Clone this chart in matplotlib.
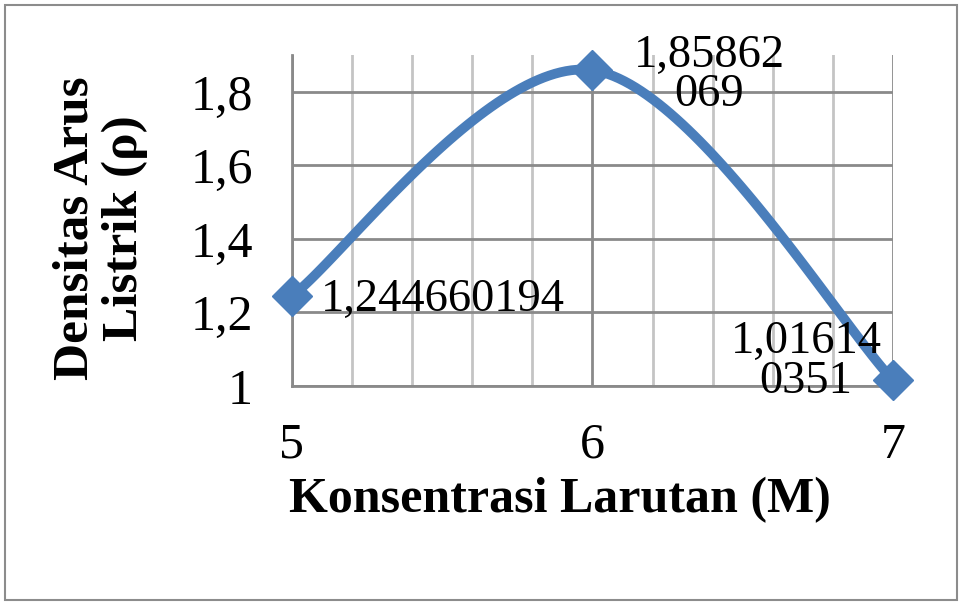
import numpy as np
import matplotlib
matplotlib.use("Agg")
import matplotlib.pyplot as plt
from matplotlib.patches import Rectangle

konsentrasi = [5, 6, 7]
densitas = [1.244660194, 1.85862069, 1.016140351]
labels = ["1,244660194", "1,85862\n069", "1,01614\n0351"]
yticks = [1.0, 1.2, 1.4, 1.6, 1.8]
ytick_labels = ["1", "1,2", "1,4", "1,6", "1,8"]
xticks = [5, 6, 7]

plt.rcParams['font.family'] = ['Liberation Serif', 'DejaVu Serif']

def excel_smooth(xs, ys, n=60):
    P = np.column_stack([xs, ys]).astype(float)
    m = len(P)
    out = []
    for i in range(m - 1):
        p0 = P[i - 1] if i > 0 else P[i]
        p1 = P[i]
        p2 = P[i + 1]
        p3 = P[i + 2] if i + 2 < m else P[i + 1]
        c1 = p1 + (p2 - p0) / 6.0
        c2 = p2 - (p3 - p1) / 6.0
        t = np.linspace(0, 1, n)[:, None]
        seg = ((1 - t) ** 3) * p1 + 3 * ((1 - t) ** 2) * t * c1 + 3 * (1 - t) * t ** 2 * c2 + t ** 3 * p2
        out.append(seg if i == 0 else seg[1:])
    s = np.vstack(out)
    return s[:, 0], s[:, 1]

fig = plt.figure(figsize=(9.62, 6.05), dpi=100)
fig.patches.append(Rectangle((5 / 962, 5 / 605), 952 / 962, 595 / 605, transform=fig.transFigure,
                             fill=False, edgecolor='#8c8c8c', linewidth=1.5))
ax = fig.add_axes([292 / 962, (605 - 386) / 605, (893 - 292) / 962, (386 - 55) / 605])

ax.set_xlim(5, 7)
ax.set_ylim(1.0, 1.9)
ax.set_yticks(yticks)
ax.set_yticklabels(ytick_labels)
ax.set_xticks(xticks)
ax.set_xticklabels([str(x) for x in xticks])
ax.set_xticks(np.arange(5, 7.01, 0.2), minor=True)
ax.tick_params(axis='both', which='both', length=0, labelsize=36)
ax.tick_params(axis='y', pad=28)
ax.tick_params(axis='x', pad=26)

ax.grid(True, which='major', axis='both', color='#8a8a8a', linewidth=2)
ax.grid(True, which='minor', axis='x', color='#c4c4c4', linewidth=2)
ax.set_axisbelow(True)
for s in ['top', 'right']:
    ax.spines[s].set_visible(False)
ax.spines['left'].set_color('#8a8a8a')
ax.spines['left'].set_linewidth(2)
ax.spines['bottom'].set_color('#8a8a8a')
ax.spines['bottom'].set_linewidth(2)

sx, sy = excel_smooth(konsentrasi, densitas)
ax.plot(sx, sy, color='#4A7EBB', linewidth=7, solid_capstyle='round', clip_on=False, zorder=3)
ax.plot(konsentrasi, densitas, linestyle='none', marker='D', markersize=20,
        color='#4A7EBB', clip_on=False, zorder=4)

offsets = [(151, -4), (117, -5), (-87, 18)]
for x, y, lab, off in zip(konsentrasi, densitas, labels, offsets):
    ax.annotate(lab, (x, y), xytext=off, textcoords='offset pixels', ha='center', va='center',
                multialignment='center', fontsize=33.5, linespacing=0.92, zorder=5,
                annotation_clip=False)

ax.text(0.446, -0.344, 'Konsentrasi Larutan (M)', transform=ax.transAxes, ha='center', va='center',
        fontsize=36, fontweight='bold')
ax.text(-0.319, 0.478, 'Densitas Arus\nListrik (\u03c1)', transform=ax.transAxes, ha='center',
        va='center', rotation=90, fontsize=37, fontweight='bold', linespacing=1.1,
        multialignment='center')

fig.savefig('out.png', dpi=100)
